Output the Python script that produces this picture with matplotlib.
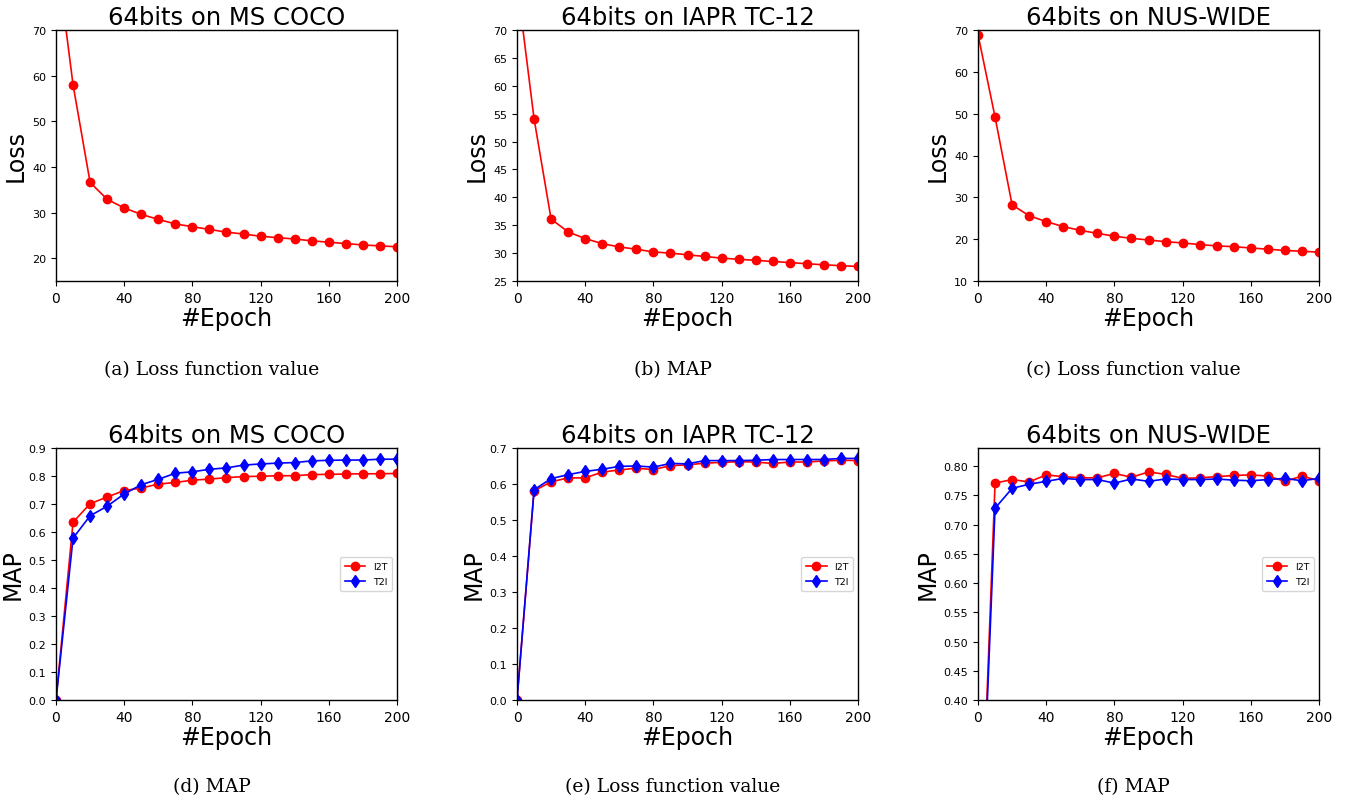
import matplotlib
matplotlib.use("Agg")
import matplotlib.pyplot as plt
from matplotlib.ticker import FormatStrFormatter

epochs = [0, 10, 20, 30, 40, 50, 60, 70, 80, 90, 100, 110, 120, 130, 140, 150, 160, 170, 180, 190, 200]

loss_coco = [87.3, 58.0, 36.6, 32.9, 31.0, 29.6, 28.5, 27.5, 26.9, 26.3, 25.7, 25.3, 24.8, 24.5, 24.2, 23.8, 23.5, 23.2, 22.9, 22.7, 22.5]
loss_iapr = [78.6, 54.1, 36.1, 33.8, 32.6, 31.7, 31.1, 30.7, 30.2, 30.0, 29.7, 29.4, 29.1, 28.9, 28.7, 28.5, 28.3, 28.1, 27.9, 27.75, 27.6]
loss_nus = [68.9, 49.2, 28.2, 25.6, 24.2, 23.0, 22.1, 21.4, 20.7, 20.2, 19.8, 19.4, 19.1, 18.7, 18.4, 18.2, 17.9, 17.6, 17.3, 17.1, 16.9]

i2t_coco = [0.0, 0.635, 0.701, 0.725, 0.748, 0.757, 0.771, 0.777, 0.785, 0.789, 0.794, 0.798, 0.799, 0.801, 0.801, 0.805, 0.806, 0.807, 0.808, 0.808, 0.809]
t2i_coco = [0.0, 0.578, 0.658, 0.692, 0.736, 0.769, 0.788, 0.810, 0.815, 0.824, 0.829, 0.839, 0.843, 0.846, 0.848, 0.854, 0.856, 0.857, 0.857, 0.860, 0.860]

i2t_iapr = [0.0, 0.581, 0.606, 0.617, 0.617, 0.633, 0.639, 0.644, 0.640, 0.651, 0.653, 0.658, 0.660, 0.662, 0.661, 0.657, 0.661, 0.661, 0.664, 0.666, 0.665]
t2i_iapr = [0.0, 0.584, 0.615, 0.626, 0.635, 0.641, 0.649, 0.650, 0.647, 0.657, 0.656, 0.665, 0.665, 0.665, 0.666, 0.668, 0.668, 0.668, 0.668, 0.671, 0.671]

i2t_nus = [0.0, 0.771, 0.777, 0.773, 0.785, 0.782, 0.780, 0.780, 0.7875, 0.781, 0.790, 0.786, 0.779, 0.780, 0.782, 0.784, 0.785, 0.783, 0.774, 0.783, 0.775]
t2i_nus = [0.0, 0.728, 0.762, 0.769, 0.774, 0.779, 0.777, 0.777, 0.771, 0.778, 0.774, 0.778, 0.777, 0.777, 0.778, 0.776, 0.775, 0.777, 0.779, 0.775, 0.779]

titles = ["64bits on MS COCO", "64bits on IAPR TC-12", "64bits on NUS-WIDE"]
captions_top = ["(a) Loss function value", "(b) MAP", "(c) Loss function value"]
captions_bot = ["(d) MAP", "(e) Loss function value", "(f) MAP"]

loss_data = [loss_coco, loss_iapr, loss_nus]
loss_ylims = [(15, 70), (25, 70), (10, 70)]
loss_yticks = [list(range(20, 71, 10)), list(range(25, 71, 5)), list(range(10, 71, 10))]

map_data = [(i2t_coco, t2i_coco), (i2t_iapr, t2i_iapr), (i2t_nus, t2i_nus)]
map_ylims = [(0.0, 0.9), (0.0, 0.7), (0.40, 0.831)]
map_yticks = [[i / 10 for i in range(0, 10)], [i / 10 for i in range(0, 8)],
              [0.40, 0.45, 0.50, 0.55, 0.60, 0.65, 0.70, 0.75, 0.80]]
map_fmt = ["%.1f", "%.1f", "%.2f"]

W, H = 1355, 804
fig = plt.figure(figsize=(W / 100, H / 100), dpi=100)
fig.patch.set_facecolor("white")

lefts = [56, 517, 978]
aw = 341
top_row = (31, 282)
bot_row = (449, 701)


def make_ax(left, row):
    t, b = row
    return fig.add_axes([left / W, (H - b) / H, aw / W, (b - t) / H])


def style(ax, title, ylabel):
    ax.set_title(title, fontsize=17.5, pad=4)
    ax.set_xlabel("#Epoch", fontsize=17, labelpad=1)
    ax.set_ylabel(ylabel, fontsize=17, labelpad=3)
    ax.set_xlim(0, 200)
    ax.set_xticks([0, 40, 80, 120, 160, 200])
    ax.tick_params(axis="x", labelsize=10)
    ax.tick_params(axis="y", labelsize=8)
    for s in ax.spines.values():
        s.set_linewidth(1.0)


for i in range(3):
    ax = make_ax(lefts[i], top_row)
    ax.plot(epochs, loss_data[i], color="red", marker="o", markersize=6, linewidth=1.2)
    ax.set_ylim(*loss_ylims[i])
    ax.set_yticks(loss_yticks[i])
    style(ax, titles[i], "Loss")
    fig.text((lefts[i] + aw / 2 - 15) / W, 1 - 370 / H, captions_top[i],
             ha="center", va="center", fontsize=13.5, family="DejaVu Serif")

for i in range(3):
    ax = make_ax(lefts[i], bot_row)
    i2t, t2i = map_data[i]
    ax.plot(epochs, i2t, color="red", marker="o", markersize=6, linewidth=1.2, label="I2T")
    ax.plot(epochs, t2i, color="blue", marker="d", markersize=6, linewidth=1.2, label="T2I")
    ax.set_ylim(*map_ylims[i])
    ax.set_yticks(map_yticks[i])
    ax.yaxis.set_major_formatter(FormatStrFormatter(map_fmt[i]))
    style(ax, titles[i], "MAP")
    ax.legend(loc="center right", fontsize=6.8, handlelength=2.2, borderpad=0.5, labelspacing=0.6)
    fig.text((lefts[i] + aw / 2 - 15) / W, 1 - 787 / H, captions_bot[i],
             ha="center", va="center", fontsize=13.5, family="DejaVu Serif")

fig.savefig("out.png", dpi=100, facecolor="white")
